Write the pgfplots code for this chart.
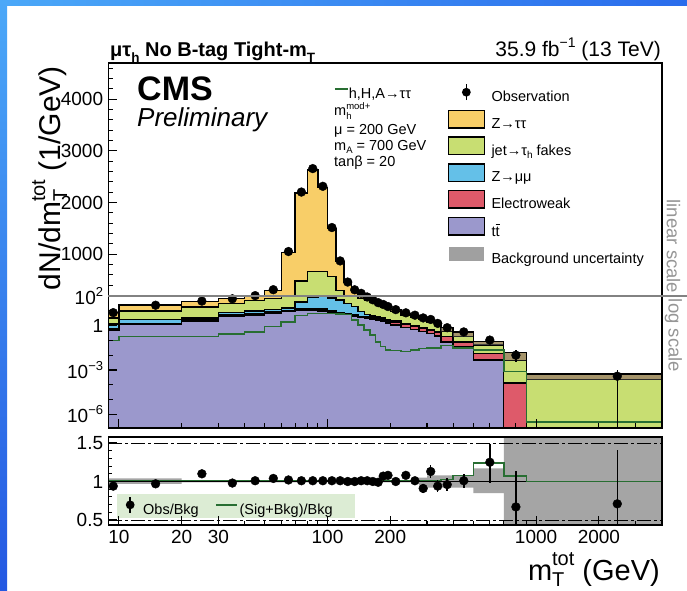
\documentclass[border=0pt]{standalone}
\usepackage{fontspec}
\setmainfont{Liberation Sans}
\usepackage{pgfplots}
\pgfplotsset{compat=1.18}
\usepackage{pgfplotstable}
\usetikzlibrary{shadings}

\newcommand{\fsz}[1]{\fontsize{#1}{#1}\selectfont}
\newcommand{\sups}[1]{\raisebox{0.42em}{\fsz{13}#1}}
\newcommand{\mTtot}[1]{m\rlap{\raisebox{-0.24em}{\fsz{#1}T}}\raisebox{0.5em}{\fsz{#1}tot}}
\newcommand{\tbar}{\rlap{\rule[0.8em]{0.3em}{0.07em}}t}

\definecolor{cZtt}{RGB}{248,206,104}
\definecolor{cFake}{RGB}{200,222,114}
\definecolor{cZmm}{RGB}{100,192,232}
\definecolor{cEWK}{RGB}{222,90,106}
\definecolor{cTT}{RGB}{155,152,204}
\definecolor{cSig}{RGB}{40,110,50}
\definecolor{cUnc}{RGB}{160,160,160}
\definecolor{cBandUp}{RGB}{110,110,110}
\definecolor{cBandRatio}{RGB}{165,165,165}
\definecolor{cLeg}{RGB}{220,236,212}
\definecolor{cSep}{RGB}{130,130,130}
\definecolor{cSide}{RGB}{150,150,150}

% cumulative stack heights per bin (left edge), events/GeV
\pgfplotstableread{
x     tt      ewk     zmm     fake    tot
8.9   1e-12   1e-12   1e-12   1e-12   1e-12
8.9   0.5     0.6     1.3     3.2     8
10    1.2     1.4     2.6     10      24.5
20    2.0     2.4     3.2     18.6    41
30    4.2     5.3     7.5     32      66
40    5.1     6.5     9.5     48      105
50    6.7     8.5     12      69      300
60    8.6     10      15      120     1030
70    11      13      40      480     2180
80    11      14      85      660     2630
90    10      13      90      660     2290
100   7.4     9.5     72      570     1500
110   6.5     8.0     54      300     860
120   5.5     6.8     32      150     460
130   4.4     5.3     19      110     310
140   3.5     4.3     9       70      150
150   3.0     3.7     5.5     55      85
160   2.6     3.2     4.5     38      55
170   2.2     2.8     3.8     26      36
180   1.9     2.4     3.2     18.5    25
190   1.5     2.0     2.6     13.5    18
200   1.1     1.6     2.0     9       12
225   0.75    1.15    1.35    5.1     6.8
250   0.55    0.9     1.0     3.8     5.0
275   0.40    0.68    0.75    2.7     3.6
300   0.29    0.5     0.55    1.7     2.3
325   0.2     0.36    0.38    1.1     1.5
350   0.08    0.18    0.18    0.4     0.75
400   0.037   0.08    0.08    0.18    0.37
500   0.0046  0.013   0.013   0.05    0.084
700   1e-12   1.3e-4  1.3e-4  0.0045  0.015
900   1e-12   1e-12   1e-12   2.2e-4  5.4e-4
4000  1e-12   1e-12   1e-12   2.2e-4  5.4e-4
4000  1e-12   1e-12   1e-12   1e-12   1e-12
}\stackdata

% signal h,H,A -> tautau
\pgfplotstableread{
x     sig
8.9   0.1
10    0.18
20    0.18
30    0.28
40    0.38
50    0.85
60    1.8
70    5.0
80    6.5
90    6.5
100   6.5
110   6.2
120   5.8
130   2.4
140   1.1
150   0.5
160   0.23
170   0.08
180   0.04
190   0.022
200   0.02
225   0.018
250   0.022
275   0.028
300   0.03
325   0.03
350   0.045
400   0.03
500   0.022
700   8e-4
900   3e-7
4000  3e-7
}\sigdata

% observed data above the split
\pgfplotstableread{
x     y
55    312
65    1051
75    2202
85    2656
95    2313
105   1515
115   869
125   460
135   310
}\obslin

% observed data sitting on the split
\pgfplotstableread{
x     y
45    106
145   151.5
}\obsmid

% observed data below the split
\pgfplotstableread{
x      y        ep       em
9.4    7.5      0        0
15     23.8     0        0
25     45.1     0        0
35     64.7     0        0
155    86       0        0
165    55       0        0
175    35.6     0        0
185    26.8     0        0
195    19.4     0        0
212.5  12       0        0
237.5  7.3      0        0
262.5  5.05     0        0
287.5  3.3      0        0
312.5  2.6      0        0
337.5  1.41     0        0
375    0.72     0.12     0.12
450    0.374    0.06     0.06
600    0.105    0.045    0.05
800    0.01     0.012    0.0065
2450   3.8e-4   6e-4     3.7999e-4
}\obslog

% Obs/Bkg
\pgfplotstableread{
x      r      ep     em
9.4    0.94   0.05   0.05
15     0.97   0.01   0.01
25     1.10   0.015  0.015
35     0.98   0.01   0.01
45     1.01   0.01   0.01
55     1.04   0.01   0.01
65     1.02   0.01   0.01
75     1.01   0.01   0.01
85     1.01   0.01   0.01
95     1.01   0.01   0.01
105    1.01   0.01   0.01
115    1.01   0.01   0.01
125    1.00   0.01   0.01
135    1.00   0.01   0.01
145    1.01   0.015  0.015
155    1.01   0.015  0.015
165    1.00   0.02   0.02
175    0.99   0.02   0.02
185    1.07   0.03   0.03
195    1.08   0.03   0.03
212.5  1.00   0.03   0.03
237.5  1.08   0.04   0.04
262.5  1.01   0.05   0.05
287.5  0.91   0.06   0.06
312.5  1.13   0.09   0.09
337.5  0.94   0.08   0.08
375    0.96   0.08   0.08
450    1.01   0.09   0.09
600    1.25   0.24   0.27
800    0.67   0.47   0.5
2450   0.71   0.7    0.7
}\ratiodata

% (Sig+Bkg)/Bkg
\pgfplotstableread{
x      r
8.9    1.015
350    1.025
400    1.08
500    1.24
700    1.07
900    1.0
4000   1.0
}\sigratio

\pgfplotsset{
  histo/.style={const plot mark left, line width=1.4pt, draw=black, forget plot},
  obsmark/.style={only marks, mark=*, mark size=4.4pt, black, mark options={fill=black}, forget plot},
}

\newcommand{\drawstack}{%
  \addplot[histo, fill=cZtt] table[x=x,y=tot]{\stackdata};
  \addplot[histo, fill=cFake] table[x=x,y=fake]{\stackdata};
  \addplot[histo, fill=cZmm] table[x=x,y=zmm]{\stackdata};
  \addplot[histo, fill=cEWK] table[x=x,y=ewk]{\stackdata};
  \addplot[histo, fill=cTT] table[x=x,y=tt]{\stackdata};
}

\begin{document}
\begin{tikzpicture}[x=1pt,y=1pt]
\useasboundingbox (0,0) rectangle (687,590);
\fill[white] (0,0) rectangle (687,590);
\shade[left color={rgb,255:red,75;green,168;blue,248}, right color={rgb,255:red,42;green,108;blue,236}] (0,584) rectangle (687,590);
\shade[top color={rgb,255:red,75;green,168;blue,248}, bottom color={rgb,255:red,36;green,88;blue,226}] (0,0) rectangle (7,590);

% ---------- linear part of the main panel ----------
\begin{axis}[at={(108.3pt,294pt)}, anchor=south west,
  scale only axis, width=553.4pt, height=233pt,
  xmode=log, xmin=8.9, xmax=4000,
  ymin=190, ymax=4700,
  axis on top, tick align=inside, ytick pos=left,
  axis line style={line width=1.6pt},
  every tick/.style={black, line width=1.1pt},
  major tick length=9pt, minor tick length=5pt,
  tick label style={font=\fsz{19}},
  yticklabel style={inner sep=0pt, xshift=-5pt},
  ytick={1000,2000,3000,4000}, yticklabels={1000,2000,3000,4000},
  minor ytick={200,400,...,4600},
  xtick=\empty,
  legend cell align=left,
  legend style={at={(0.6133,0.913)}, anchor=north west, draw=none, fill=none,
    inner sep=0pt, font=\fsz{14.5}, row sep=6.5pt, column sep=6.7pt,
    nodes={inner sep=0pt}},
]
\drawstack
\addplot[obsmark] table[x=x,y=y]{\obslin};

\addlegendimage{legend image code/.code={\path[draw=none] (0pt,-3.75pt) rectangle (35.6pt,13.75pt);
  \draw[black, line width=1.5pt] (17.8pt,-3pt) -- (17.8pt,13pt); \fill[black, draw=none] (17.8pt,5pt) circle (4.4pt);}}
\addlegendentry{Observation}
\addlegendimage{legend image code/.code={\draw[black, fill=cZtt, line width=1.3pt] (0pt,-3.75pt) rectangle (35.6pt,13.75pt);}}
\addlegendentry{Z→ττ}
\addlegendimage{legend image code/.code={\draw[black, fill=cFake, line width=1.3pt] (0pt,-3.75pt) rectangle (35.6pt,13.75pt);}}
\addlegendentry{jet→τ\raisebox{-0.25em}{\fsz{10}h} fakes}
\addlegendimage{legend image code/.code={\draw[black, fill=cZmm, line width=1.3pt] (0pt,-3.75pt) rectangle (35.6pt,13.75pt);}}
\addlegendentry{Z→μμ}
\addlegendimage{legend image code/.code={\draw[black, fill=cEWK, line width=1.3pt] (0pt,-3.75pt) rectangle (35.6pt,13.75pt);}}
\addlegendentry{Electroweak}
\addlegendimage{legend image code/.code={\draw[black, fill=cTT, line width=1.3pt] (0pt,-3.75pt) rectangle (35.6pt,13.75pt);}}
\addlegendentry{t\tbar}
\addlegendimage{legend image code/.code={\path[draw=none] (0pt,-3.75pt) rectangle (35.6pt,13.75pt);
  \fill[cUnc, draw=none] (0pt,-2pt) rectangle (35.6pt,12pt);}}
\addlegendentry{Background uncertainty}
\end{axis}

% ---------- logarithmic part of the main panel ----------
\begin{axis}[at={(108.3pt,162pt)}, anchor=south west,
  scale only axis, width=553.4pt, height=132pt,
  xmode=log, xmin=8.9, xmax=4000,
  ymode=log, ymin=1.2e-7, ymax=100,
  axis on top, tick align=inside, xtick pos=left, ytick pos=left,
  axis line style={line width=1.6pt},
  every tick/.style={black, line width=1.1pt},
  major tick length=9pt, minor tick length=5pt,
  tick label style={font=\fsz{19}},
  yticklabel style={inner sep=0pt, xshift=-5pt},
  ytick={1e-6,1e-3,1,100}, yticklabels={10\sups{−6},10\sups{−3},1,10\sups{2}},
  minor ytick={1e-7,1e-5,1e-4,1e-2,1e-1,10},
  xtick={10,100,1000}, xticklabels={,,},
  minor xtick={20,30,40,50,60,70,80,90,200,300,400,500,600,700,800,900,2000,3000},
  legend cell align=left,
  legend style={at={(0.4078,2.530)}, anchor=west, draw=none, fill=none,
    inner sep=0pt, font=\fsz{14.5}, column sep=0.5pt, nodes={inner sep=0pt}},
]
\drawstack
% background uncertainty on the high-mass bins
\addplot[fill=cBandUp, fill opacity=0.6, draw=none, forget plot] coordinates {
  (350,0.4) (350,0.75) (400,0.75) (400,0.37) (500,0.37) (500,0.084) (700,0.084)
  (700,0.015) (900,0.015) (900,5.4e-4) (4000,5.4e-4) (4000,2.2e-4) (900,2.2e-4)
  (900,0.0045) (700,0.0045) (700,0.05) (500,0.05) (500,0.18) (400,0.18) (400,0.4)};
\addplot[histo, fill=none] table[x=x,y=tot]{\stackdata};
\addplot[const plot mark left, cSig, line width=1.5pt, forget plot] table[x=x,y=sig]{\sigdata};
\addplot[obsmark, error bars/.cd, y dir=both, y explicit, error mark=none,
  error bar style={line width=1.5pt, black}]
  table[x=x,y=y,y error plus=ep,y error minus=em]{\obslog};
\addlegendimage{legend image code/.code={\draw[cSig,line width=1.5pt] (0pt,5pt) -- (12.7pt,5pt);}}
\addlegendentry{h,H,A→ττ}
\end{axis}

% ---------- the log scale carried on through the upper part, for points on the split ----------
\begin{axis}[at={(108.3pt,162pt)}, anchor=south west,
  scale only axis, width=553.4pt, height=365pt, hide axis,
  xmode=log, xmin=8.9, xmax=4000,
  ymode=log, ymin=1.2e-7, ymax=5.6e17,
]
\addplot[obsmark] table[x=x,y=y]{\obsmid};
\end{axis}

% ---------- ratio panel ----------
\begin{axis}[at={(108.3pt,65pt)}, anchor=south west,
  scale only axis, width=553.4pt, height=88pt,
  xmode=log, xmin=8.9, xmax=4000,
  ymin=0.435, ymax=1.578,
  axis on top, tick align=inside, xtick pos=left, ytick pos=left,
  axis line style={line width=1.6pt},
  every tick/.style={black, line width=1.1pt},
  major tick length=9pt, minor tick length=4pt,
  tick label style={font=\fsz{19}},
  yticklabel style={inner sep=0pt, xshift=-5pt},
  xticklabel style={inner sep=0pt, yshift=-5pt},
  ytick={0.5,1,1.5}, yticklabels={0.5,1,1.5},
  minor ytick={0.6,0.7,0.8,0.9,1.1,1.2,1.3,1.4},
  xtick={10,20,30,100,200,1000,2000}, xticklabels={10,20,30,100,200,1000,2000},
  minor xtick={40,50,60,70,80,90,300,400,500,600,700,800,900,3000,4000},
  legend columns=2, legend cell align=left,
  legend style={at={(0.0157,0.216)}, anchor=west, draw=none, fill=none,
    inner sep=0pt, font=\fsz{14.5}, column sep=2pt, nodes={inner sep=0pt}},
]
\addplot[fill=cBandRatio, draw=none, forget plot] coordinates {
  (8.9,1.04) (20,1.04) (20,1.01) (275,1.01) (275,1.05) (300,1.05) (300,1.08)
  (500,1.08) (500,1.17) (700,1.17) (700,1.7) (4000,1.7) (4000,0.3) (700,0.3)
  (700,0.85) (500,0.85) (500,0.92) (300,0.92) (300,0.95) (275,0.95) (275,0.99)
  (20,0.99) (20,0.97) (8.9,0.97)};
\fill[cLeg] (rel axis cs:0.0157,0.0795) rectangle (rel axis cs:0.4458,0.352);
\addplot[black, line width=1pt, dash pattern=on 14pt off 3pt on 3pt off 3pt, forget plot]
  coordinates {(8.9,1.5) (4000,1.5)};
\addplot[black, line width=1pt, dash pattern=on 14pt off 3pt on 3pt off 3pt, forget plot]
  coordinates {(8.9,0.5) (4000,0.5)};
\addplot[black, line width=1pt, forget plot] coordinates {(8.9,1) (4000,1)};
\addplot[const plot mark left, cSig, line width=1.5pt, forget plot] table[x=x,y=r]{\sigratio};
\addplot[obsmark, error bars/.cd, y dir=both, y explicit, error mark=none,
  error bar style={line width=1.5pt, black}]
  table[x=x,y=r,y error plus=ep,y error minus=em]{\ratiodata};
\addlegendimage{legend image code/.code={\path[draw=none] (0pt,-3.5pt) rectangle (24pt,13.5pt);
  \draw[black, line width=1.5pt] (13pt,-3pt) -- (13pt,13pt); \fill[black, draw=none] (13pt,5pt) circle (4.4pt);}}
\addlegendentry{Obs/Bkg}
\addlegendimage{legend image code/.code={\path[draw=none] (0pt,-3.5pt) rectangle (36pt,13.5pt);
  \draw[cSig, line width=1.5pt] (15pt,5pt) -- (36pt,5pt);}}
\addlegendentry{(Sig+Bkg)/Bkg}
\end{axis}

% split between linear and logarithmic scale
\draw[cSep, line width=2pt] (108.3,294) -- (687,294);
\node[rotate=-90, font=\fsz{18.5}, text=cSide, inner sep=0pt] at (673.5,343.5) {linear scale};
\node[rotate=-90, font=\fsz{18.5}, text=cSide, inner sep=0pt] at (673.5,254.5) {log scale};

% titles and labels
\node[anchor=base west, font=\fsz{20}\bfseries, inner sep=0pt] at (110,533.3)
  {μτ\raisebox{-0.3em}{\fsz{13.5}h} No B-tag Tight-m\raisebox{-0.3em}{\fsz{13.5}T}};
\node[anchor=base east, font=\fsz{21}, inner sep=0pt] at (661,533.3)
  {35.9 fb\raisebox{0.45em}{\fsz{14}−1} (13 TeV)};
\node[anchor=base west, font=\fsz{34}\bfseries, inner sep=0pt] at (137,489) {CMS};
\node[anchor=base west, font=\fsz{26}\itshape, inner sep=0pt] at (137,463) {Preliminary};

\node[anchor=base west, font=\fsz{14.5}, inner sep=0pt] at (334,474)
  {m\rlap{\raisebox{-0.22em}{\fsz{9.5}h}}\raisebox{0.45em}{\fsz{9.5}mod+}};
\node[anchor=base west, font=\fsz{14.5}, inner sep=0pt] at (334,455) {μ = 200 GeV};
\node[anchor=base west, font=\fsz{14.5}, inner sep=0pt] at (334,439)
  {m\raisebox{-0.2em}{\fsz{9.5}A} = 700 GeV};
\node[anchor=base west, font=\fsz{14.5}, inner sep=0pt] at (334,423) {tanβ = 20};

\node[rotate=90, anchor=base east, font=\fsz{30}, inner sep=0pt] at (60,524)
  {dN/d\mTtot{20} (1/GeV)};
\node[anchor=base east, font=\fsz{29}, inner sep=0pt] at (660,10) {\mTtot{20} (GeV)};
\end{tikzpicture}
\end{document}
